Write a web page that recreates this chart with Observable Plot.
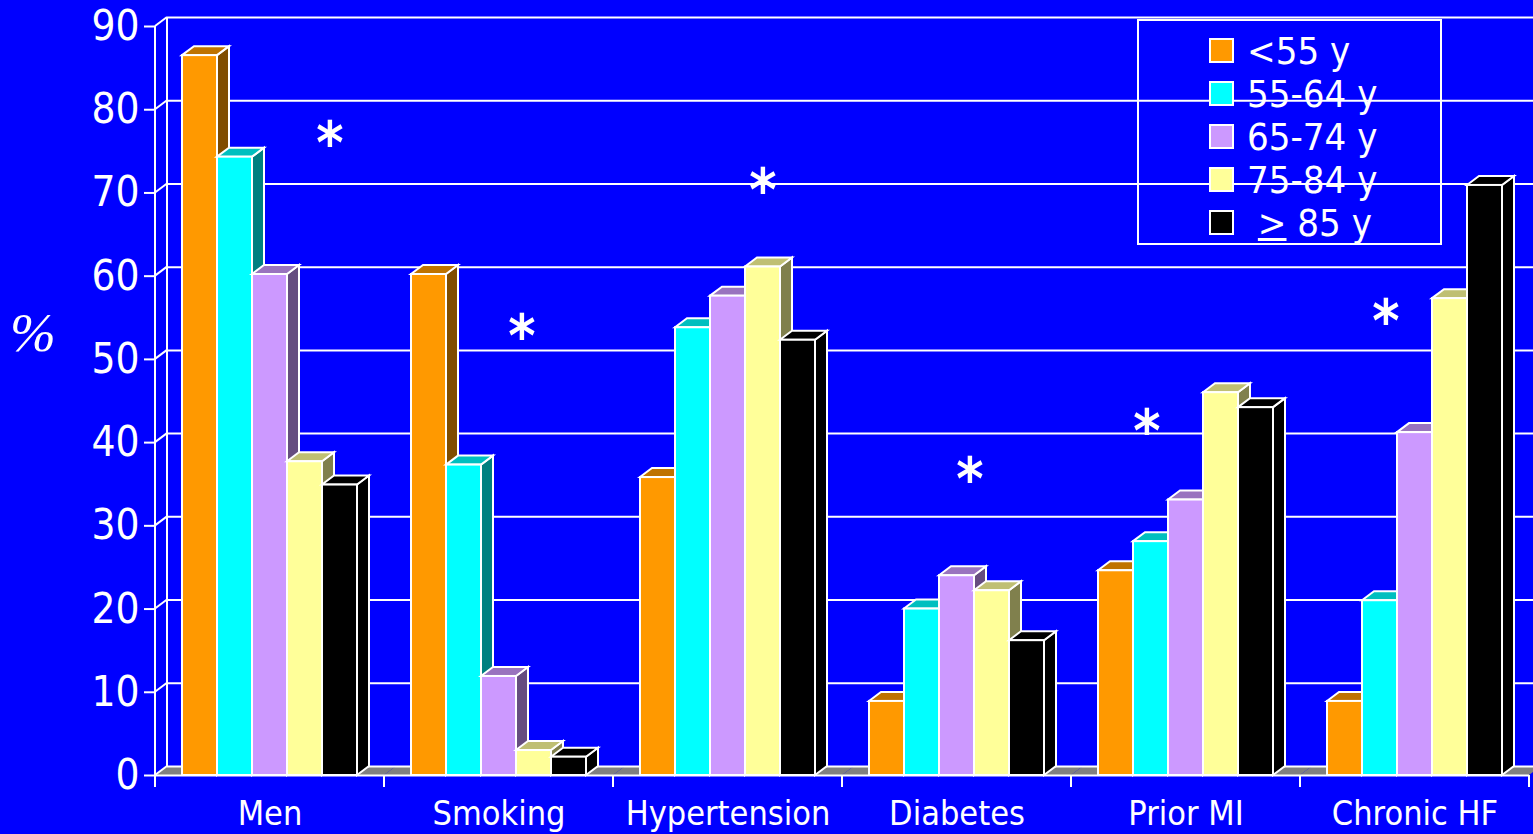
<!DOCTYPE html>
<html><head><meta charset="utf-8">
<script src="https://cdn.jsdelivr.net/npm/d3@7"></script>
<script src="https://cdn.jsdelivr.net/npm/@observablehq/plot@0.6"></script>
<style>
body{margin:0;background:#0000ff;}
#wrap{position:relative;width:1533px;height:834px;overflow:hidden;font-family:"DejaVu Sans Condensed","DejaVu Sans",sans-serif;font-stretch:condensed;}
#wrap svg{position:absolute;left:0;top:0;}
#legend{position:absolute;left:1137px;top:19px;width:301px;height:222px;border:2px solid #fff;}
.row{position:absolute;left:70px;height:43px;display:flex;align-items:center;color:#fff;font-size:38px;white-space:pre;}
.sw{width:21px;height:21px;border:2px solid #fff;margin-right:13px;}
#pct{position:absolute;left:10px;top:305px;font:italic 55px/55px "Liberation Serif",serif;color:#fff;}
</style></head><body><div id="wrap"></div>
<script>
// ---- data ----
const categories = ["Men", "Smoking", "Hypertension", "Diabetes", "Prior MI", "Chronic HF"];
const ageGroups = ["<55 y", "55-64 y", "65-74 y", "75-84 y", "≥85 y"];
const ageUnder55 = [86.5, 60.2, 35.8, 8.9, 24.6, 8.9];
const age55to64  = [74.3, 37.3, 53.8, 20.0, 28.1, 21.0];
const age65to74  = [60.2, 11.9, 57.6, 24.0, 33.1, 41.2];
const age75to84  = [37.7, 3.0, 61.1, 22.2, 46.0, 57.3];
const age85plus  = [34.9, 2.2, 52.3, 16.2, 44.2, 70.9];
const yTicks = [0, 10, 20, 30, 40, 50, 60, 70, 80, 90];
const starCategories = ["Men", "Smoking", "Hypertension", "Diabetes", "Prior MI", "Chronic HF"];
const starAges = ["≥85 y", "75-84 y", "75-84 y", "65-74 y", "55-64 y", "55-64 y"];
const starY = [75.3, 52.2, 69.7, 35.0, 40.7, 54.0];

// ---- styling ----
const colors = ["#ff9900", "#00ffff", "#cc99ff", "#ffff99", "#000000"];
const starNudge = {"Men": -10, "Smoking": -12, "Hypertension": 0, "Diabetes": 13, "Prior MI": -4, "Chronic HF": 6};
const DX = 12, DY = -9;
const FONT = '"DejaVu Sans Condensed","DejaVu Sans",sans-serif';

const series = [ageUnder55, age55to64, age65to74, age75to84, age85plus];
const table = categories.flatMap((c, i) => ageGroups.map((a, j) => ({category: c, age: a, value: series[j][i]})));
const stars = starCategories.map((c, i) => ({category: c, age: starAges[i], y: starY[i]}));

const ns = "http://www.w3.org/2000/svg";
function el(tag, attrs) { const e = document.createElementNS(ns, tag); for (const k in attrs) e.setAttribute(k, attrs[k]); return e; }
function shade(c, k) { const r = d3.rgb(c); return d3.rgb(r.r * k, r.g * k, r.b * k).formatHex(); }
const pts = a => a.map(p => p.join(",")).join(" ");

function prism(index, scales, values, dimensions, context, next) {
  const g = next(index, scales, values, dimensions, context);
  for (const r of Array.from(g.querySelectorAll("rect"))) {
    const x = +r.getAttribute("x"), y = +r.getAttribute("y"), w = +r.getAttribute("width"), h = +r.getAttribute("height");
    const f = r.getAttribute("fill") || "#000";
    const side = el("polygon", {points: pts([[x + w, y], [x + w + DX, y + DY], [x + w + DX, y + h + DY], [x + w, y + h]]), fill: shade(f, 0.5)});
    const top = el("polygon", {points: pts([[x, y], [x + DX, y + DY], [x + w + DX, y + DY], [x + w, y]]), fill: shade(f, 0.75)});
    r.parentNode.insertBefore(side, r);
    r.parentNode.insertBefore(top, r);
  }
  return g;
}
function floor(index, scales, values, dimensions, context, next) {
  const g = next(index, scales, values, dimensions, context);
  const r = g.querySelector("rect");
  const out = el("g", {});
  if (!r) return out;
  const x = +r.getAttribute("x"), w = +r.getAttribute("width"), y = +r.getAttribute("y") + +r.getAttribute("height");
  out.appendChild(el("polygon", {points: pts([[x, y], [x + w, y], [x + w + DX, y + DY], [x + DX, y + DY]]), fill: "#808080"}));
  return out;
}
function wall(index, scales, values, dimensions, context, next) {
  const g = next(index, scales, values, dimensions, context);
  const lines = Array.from(g.querySelectorAll("line"));
  const out = el("g", {stroke: "#fff", "stroke-width": 2, fill: "none"});
  if (!lines.length) return out;
  const x0 = +lines[0].getAttribute("x1");
  const ys = lines.map(l => +l.getAttribute("y1"));
  const yMin = Math.min(...ys), yMax = Math.max(...ys);
  for (const y of ys) out.appendChild(el("line", {x1: x0, y1: y, x2: x0 + DX, y2: y + DY}));
  out.appendChild(el("line", {x1: x0, y1: yMin, x2: x0, y2: yMax}));
  out.appendChild(el("line", {x1: x0 + DX, y1: yMin + DY, x2: x0 + DX, y2: yMax + DY}));
  return out;
}
function catTicks(index, scales, values, dimensions, context, next) {
  const g = next(index, scales, values, dimensions, context);
  const l = g.querySelector("line");
  const out = el("g", {stroke: "#fff", "stroke-width": 2});
  if (!l) return out;
  const y = +l.getAttribute("y1");
  for (const x of [+l.getAttribute("x1"), +l.getAttribute("x2")]) out.appendChild(el("line", {x1: x, y1: y, x2: x, y2: y + 12}));
  return out;
}

const chart = Plot.plot({
  width: 1533, height: 834,
  marginLeft: 154, marginRight: 3, marginTop: 26, marginBottom: 59,
  style: {background: "#0000ff", color: "#fff", fontFamily: FONT, fontStretch: "condensed", overflow: "visible"},
  fx: {domain: categories, padding: 0},
  x: {domain: ageGroups, paddingInner: 0, paddingOuter: 0.74, axis: null},
  y: {domain: [0, 90]},
  color: {domain: ageGroups, range: colors},
  marks: [
    Plot.barY([0], {y1: 0, y2: 0, render: floor}),
    Plot.ruleY(yTicks, {dx: DX, dy: DY, stroke: "#fff", strokeWidth: 2}),
    Plot.ruleY(yTicks, {facetAnchor: "left", render: wall}),
    Plot.ruleY([0], {stroke: "#fff", strokeWidth: 2}),
    Plot.ruleY([0], {render: catTicks}),
    Plot.barY(table, {fx: "category", x: "age", y: "value", fill: "age", stroke: "#fff", strokeWidth: 2, render: prism}),
    ...stars.map(s => Plot.text([s], {fx: "category", x: "age", y: "y", text: () => "*", dx: starNudge[s.category], dy: -4, fill: "#fff", fontSize: 58, fontWeight: "bold", lineAnchor: "middle"})),
    Plot.axisY({ticks: yTicks, tickSize: 11, tickPadding: 5, fontSize: 42, strokeWidth: 2, label: null}),
    Plot.axisFx({anchor: "bottom", tickSize: 0, tickPadding: 25, fontSize: 34, label: null})
  ]
});

const wrap = document.getElementById("wrap");
wrap.appendChild(chart);
const pct = document.createElement("div");
pct.id = "pct"; pct.textContent = "%";
wrap.appendChild(pct);
const legend = document.createElement("div");
legend.id = "legend";
ageGroups.forEach((a, i) => {
  const row = document.createElement("div");
  row.className = "row";
  row.style.top = (8 + i * 43) + "px";
  const sw = document.createElement("div");
  sw.className = "sw"; sw.style.background = colors[i];
  row.appendChild(sw);
  const t = document.createElement("span");
  if (a.startsWith("≥")) {
    t.innerHTML = ' <u>&gt;</u> ' + a.slice(1);
  } else t.textContent = a;
  row.appendChild(t);
  legend.appendChild(row);
});
wrap.appendChild(legend);
</script></body></html>
